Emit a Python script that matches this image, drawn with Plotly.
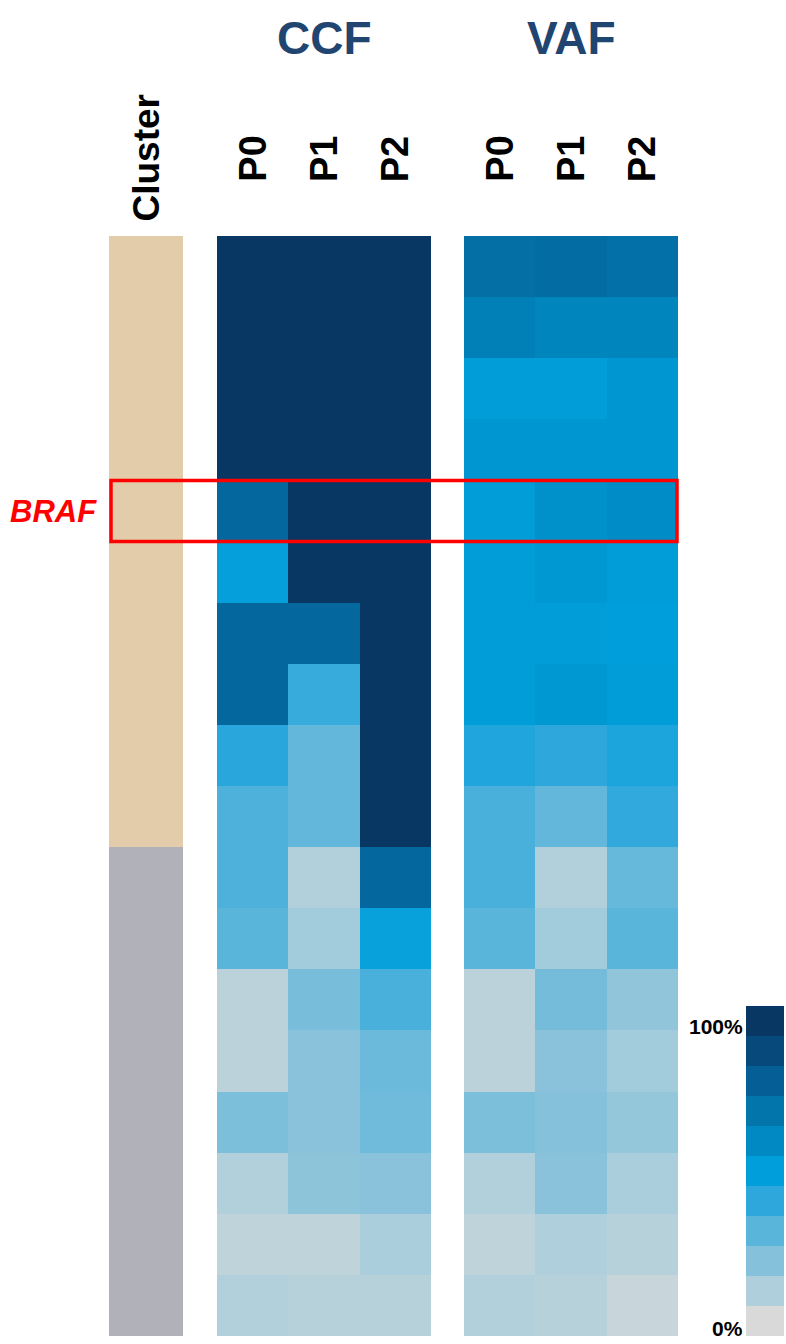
import plotly.graph_objects as go

# ---------------- data ----------------
samples = ["P0", "P1", "P2"]
n_rows = 18
row_ids = list(range(n_rows))

# cluster membership per row (0 = tan cluster, 1 = grey cluster)
cluster = [0] * 10 + [1] * 8

# CCF values (%) per row, columns P0, P1, P2
ccf = [
    [100, 100, 100],
    [100, 100, 100],
    [100, 100, 100],
    [100, 100, 100],
    [76, 100, 100],   # BRAF
    [49, 100, 100],
    [76, 76, 100],
    [76, 38, 100],
    [41, 28, 100],
    [33, 28, 100],
    [33, 9, 76],
    [30, 13, 48],
    [7, 23, 34],
    [7, 19, 26],
    [22, 19, 25],
    [9, 18, 19],
    [6, 6, 11],
    [9, 8, 8],
]

# VAF values (%) per row, columns P0, P1, P2
vaf = [
    [73, 74, 72],
    [65, 62, 62],
    [51, 51, 54],
    [54, 54, 54],
    [51, 57, 58],     # BRAF
    [51, 53, 51],
    [51, 51, 50],
    [51, 53, 51],
    [43, 40, 44],
    [34, 28, 39],
    [34, 9, 27],
    [30, 13, 30],
    [7, 24, 17],
    [7, 19, 13],
    [22, 20, 16],
    [9, 19, 11],
    [6, 10, 8],
    [9, 8, 4],
]

legend_levels = [0, 10, 20, 30, 40, 50, 60, 70, 80, 90, 100]
legend_labels = ["0%", "100%"]
highlight_row = 4
highlight_label = "BRAF"
block_titles = ["CCF", "VAF"]

# ---------------- styles ----------------
level_colors = ['#d9d9d9', '#aecfdb', '#85c1da', '#5ab5db', '#2ea8dc', '#009fdb',
                '#0089c2', '#0276ab', '#055f96', '#06497a', '#083763']
colorscale = [[i / 10, c] for i, c in enumerate(level_colors)]
cluster_colors = [[0, '#e2cca9'], [1, '#b1b1ba']]
W, H = 786, 1344
FONT = "Liberation Sans, Arial, sans-serif"
TITLE_COLOR = "#1f4570"


def px_x(a, b):
    return [a / W, b / W]


def px_y(top, bottom):
    return [1 - bottom / H, 1 - top / H]


fig = go.Figure()

# cluster column
fig.add_trace(go.Heatmap(
    z=[[c] for c in cluster], x=[0], y=row_ids,
    colorscale=cluster_colors, zmin=0, zmax=1, showscale=False,
    xaxis="x", yaxis="y", hoverinfo="skip"))

# CCF heatmap
fig.add_trace(go.Heatmap(
    z=ccf, x=[0, 1, 2], y=row_ids, colorscale=colorscale, zmin=0, zmax=100,
    showscale=False, xaxis="x2", yaxis="y"))

# VAF heatmap
fig.add_trace(go.Heatmap(
    z=vaf, x=[0, 1, 2], y=row_ids, colorscale=colorscale, zmin=0, zmax=100,
    showscale=False, xaxis="x3", yaxis="y"))

# discrete legend
fig.add_trace(go.Heatmap(
    z=[[v] for v in legend_levels], x=[0], y=list(range(len(legend_levels))),
    colorscale=colorscale, zmin=0, zmax=100, showscale=False,
    xaxis="x4", yaxis="y2", hoverinfo="skip"))

hidden = dict(visible=False, showgrid=False, zeroline=False, fixedrange=True)
fig.update_layout(
    width=W, height=H, margin=dict(l=0, r=0, t=0, b=0),
    paper_bgcolor="white", plot_bgcolor="white",
    xaxis=dict(domain=px_x(109, 183), range=[-0.5, 0.5], **hidden),
    xaxis2=dict(domain=px_x(217, 431), range=[-0.5, 2.5], anchor="y", **hidden),
    xaxis3=dict(domain=px_x(464, 678), range=[-0.5, 2.5], anchor="y", **hidden),
    xaxis4=dict(domain=px_x(746, 784), range=[-0.5, 0.5], anchor="y2", **hidden),
    yaxis=dict(domain=px_y(236, 1336), range=[n_rows - 0.5, -0.5], **hidden),
    yaxis2=dict(domain=px_y(1006, 1336), range=[-0.5, len(legend_levels) - 0.5],
                anchor="x4", **hidden),
    showlegend=False,
)

ann = []
# block titles
for title, xref in zip(block_titles, ["x2", "x3"]):
    ann.append(dict(text=f"<b>{title}</b>", x=1, xref=xref, y=1 - 38 / H, yref="paper",
                    showarrow=False, xanchor="center", yanchor="middle",
                    font=dict(family=FONT, size=46, color=TITLE_COLOR)))
# sample column labels
for xref in ["x2", "x3"]:
    for i, s in enumerate(samples):
        ann.append(dict(text=f"<b>{s}</b>", x=i, xref=xref, y=1 - 159 / H, yref="paper",
                        textangle=-90, showarrow=False, xanchor="center", yanchor="middle",
                        font=dict(family=FONT, size=38, color="black")))
# cluster label
ann.append(dict(text="<b>Cluster</b>", x=0, xref="x", y=1 - 158.5 / H, yref="paper",
                textangle=-90, showarrow=False, xanchor="center", yanchor="middle",
                font=dict(family=FONT, size=37, color="black")))
# highlighted gene label
ann.append(dict(text=f"<b><i>{highlight_label}</i></b>", x=53 / W, xref="paper",
                y=highlight_row, yref="y", showarrow=False, xanchor="center", yanchor="middle",
                font=dict(family=FONT, size=31, color="#ff0000")))
# legend labels
ann.append(dict(text=f"<b>{legend_labels[1]}</b>", x=745 / W, xref="paper",
                y=len(legend_levels) - 1, yref="y2", showarrow=False,
                xanchor="right", yanchor="middle", yshift=-5,
                font=dict(family=FONT, size=21, color="black")))
ann.append(dict(text=f"<b>{legend_labels[0]}</b>", x=745 / W, xref="paper",
                y=0, yref="y2", showarrow=False, xanchor="right", yanchor="middle",
                yshift=-7,
                font=dict(family=FONT, size=21, color="black")))
fig.update_layout(annotations=ann)

# red highlight box around BRAF row
fig.add_shape(type="rect", xref="paper", yref="y",
              x0=111 / W, x1=677 / W, y0=highlight_row - 0.5, y1=highlight_row + 0.5,
              line=dict(color="#ff0000", width=3.5), fillcolor="rgba(0,0,0,0)")

fig.write_html("out.html", config={"displayModeBar": False},
               post_script="document.body.style.margin='0';")
